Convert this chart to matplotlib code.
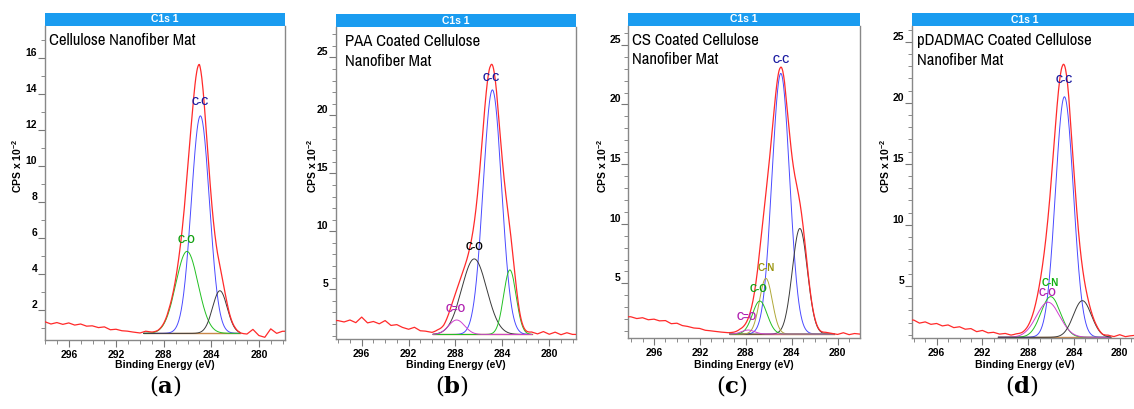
import os
import numpy as np
import matplotlib
matplotlib.use("Agg")
import matplotlib.pyplot as plt
from matplotlib import font_manager
from matplotlib.font_manager import FontProperties
from matplotlib.patches import Rectangle
from matplotlib.ticker import MultipleLocator

plt.rcParams['font.family'] = ['Liberation Sans', 'DejaVu Sans']
plt.rcParams['mathtext.fontset'] = 'custom'
plt.rcParams['mathtext.rm'] = 'Liberation Sans:bold'
plt.rcParams['mathtext.it'] = 'Liberation Sans:bold'
plt.rcParams['mathtext.bf'] = 'Liberation Sans:bold'

W, H = 1134, 409

# binding energy grid on which the noisy background was read (eV)
bg_energy = np.arange(298.0, 277.9, -0.5)

# ---- panel (a) Cellulose nanofiber mat
a_bg = [1.35, 1.22, 1.30, 1.20, 1.28, 1.16, 1.22, 1.10, 1.12, 1.02, 1.06,
        0.90, 0.93, 0.84, 0.82, 0.76, 0.72, 0.82, 0.74, 0.72, 0.75, 0.80,
        0.72, 0.70, 0.75, 0.80, 1.15, 0.70, 0.72, 0.75, 0.82, 0.72, 0.74,
        0.68, 0.66, 0.92, 0.58, 0.48, 0.95, 0.70, 0.82]
a_baseline = [289.7, 281.6, 0.70]
a_center = [284.92, 286.05, 283.28]
a_peak = [12.8, 5.26, 3.07]
a_fwhm = [1.80, 2.20, 1.45]
a_labels = ['C-C', 'C-O']
a_label_e = [284.97, 286.09]
a_label_v = [13.55, 5.9]

# ---- panel (b) PAA coated
b_bg = [2.30, 2.18, 2.35, 2.12, 2.60, 2.10, 2.22, 2.02, 2.30, 1.88, 1.95,
        1.70, 1.55, 1.72, 1.42, 1.38, 1.25, 1.35, 1.25, 1.35, 1.30, 1.20,
        1.10, 1.10, 1.15, 1.10, 0.80, 1.10, 1.15, 1.10, 1.20, 1.15, 1.20,
        1.30, 1.15, 1.35, 1.12, 1.30, 1.08, 1.25, 1.10]
b_baseline = [289.9, 281.5, 1.10]
b_center = [284.85, 286.40, 283.36, 287.90]
b_peak = [22.2, 7.62, 6.67, 2.35]
b_fwhm = [1.85, 2.50, 1.25, 1.60]
b_labels = ['C-C', 'C-O', 'C=O']
b_label_e = [284.92, 286.40, 287.95]
b_label_v = [23.2, 8.63, 3.27]

# ---- panel (c) CS coated
c_bg = [2.20, 2.05, 2.12, 1.95, 2.00, 1.85, 1.88, 1.62, 1.66, 1.45, 1.38,
        1.25, 1.22, 1.06, 1.02, 0.95, 0.90, 0.86, 0.88, 0.95, 0.85, 0.80,
        0.75, 0.75, 0.80, 0.75, 0.55, 0.75, 0.80, 0.90, 0.85, 0.80, 0.82,
        0.80, 0.88, 0.80, 0.72, 0.86, 0.70, 0.80, 0.74]
c_baseline = [289.4, 280.3, 0.75]
c_center = [284.95, 283.29, 286.25, 286.78, 287.80]
c_peak = [22.6, 9.6, 5.42, 3.52, 1.09]
c_fwhm = [1.80, 1.55, 1.30, 1.50, 1.30]
c_labels = ['C-C', 'C-N', 'C-O', 'C=O']
c_label_e = [284.94, 286.25, 286.87, 287.90]
c_label_v = [23.7, 6.3, 4.5, 2.15]

# ---- panel (d) pDADMAC coated
d_bg = [2.20, 1.95, 2.05, 1.85, 1.92, 1.72, 1.80, 1.58, 1.65, 1.45, 1.50,
        1.25, 1.35, 1.15, 1.20, 1.05, 1.10, 0.95, 1.00, 0.90, 0.85, 0.80,
        0.79, 0.79, 0.80, 0.79, 0.60, 0.79, 0.80, 0.79, 0.80, 0.82, 0.86,
        0.80, 0.92, 0.84, 1.00, 0.84, 0.92, 0.96, 0.86]
d_baseline = [290.6, 280.8, 0.79]
d_center = [284.83, 286.03, 286.26, 283.26]
d_peak = [20.5, 4.12, 3.66, 3.79]
d_fwhm = [1.85, 2.00, 2.40, 1.85]
d_labels = ['C-C', 'C-N', 'C-O']
d_label_e = [284.85, 286.10, 286.35]
d_label_v = [21.86, 5.2, 4.45]

titles = ['Cellulose Nanofiber Mat',
          'PAA Coated Cellulose\nNanofiber Mat',
          'CS Coated Cellulose\nNanofiber Mat',
          'pDADMAC Coated Cellulose\nNanofiber Mat']
panel_letters = ['a', 'b', 'c', 'd']

# styles
RED = '#ff2a2a'
BLUE = '#4a4aff'
GREEN = '#22c022'
BLACK = '#3a3a3a'
MAGENTA = '#d040d0'
OLIVE = '#b0a838'
BASE = '#c8884a'
HEADER = '#1a9cf0'

a_colors = [BLUE, GREEN, BLACK]
b_colors = [BLUE, BLACK, GREEN, MAGENTA]
c_colors = [BLUE, BLACK, OLIVE, GREEN, MAGENTA]
d_colors = [BLUE, GREEN, MAGENTA, BLACK]
a_label_colors = ['#1a1aa0', '#10a010']
b_label_colors = ['#1a1aa0', '#000000', '#b020b0']
c_label_colors = ['#1a1aa0', '#9a9410', '#10a010', '#b020b0']
d_label_colors = ['#1a1aa0', '#10b010', '#b020b0']

# pixel layout: left, right, header top, plot top, plot bottom
boxes = [(45, 285, 13, 26, 340),
         (336, 576, 14.3, 27.3, 339),
         (628.3, 860, 13.3, 25.7, 338),
         (911.7, 1138, 13.3, 26, 338)]
xlims = [(298.0, 277.8), (298.19, 277.72), (298.24, 278.05), (298.18, 278.4)]
ylims = [(0.33, 17.8), (0.71, 27.6), (0.42, 26.6), (0.73, 26.3)]
ymajor = [2, 5, 5, 5]
title_dx = [4, 9, 4, 5]
ylabel_x = [17, 311.7, 602.3, 885]
letter_x = [165, 452, 732, 1022]

# narrow sans for the in-plot titles, if one is installed
narrow_file = None
for f in font_manager.fontManager.ttflist:
    base_name = os.path.basename(f.fname).lower()
    if 'narrow' in (f.name + base_name).lower() and 'bold' not in base_name \
            and 'italic' not in base_name and f.style == 'normal':
        narrow_file = f.fname
        break
if narrow_file:
    title_prop = FontProperties(fname=narrow_file, size=12)
else:
    title_prop = FontProperties(family='Liberation Sans', size=10)


def gauss(e, c, fwhm):
    return np.exp(-4 * np.log(2) * (e - c) ** 2 / fwhm ** 2)


fig = plt.figure(figsize=(W / 100, H / 100), dpi=100)

panels = [
    (a_bg, a_baseline, a_center, a_peak, a_fwhm, a_colors, a_labels, a_label_e, a_label_v, a_label_colors),
    (b_bg, b_baseline, b_center, b_peak, b_fwhm, b_colors, b_labels, b_label_e, b_label_v, b_label_colors),
    (c_bg, c_baseline, c_center, c_peak, c_fwhm, c_colors, c_labels, c_label_e, c_label_v, c_label_colors),
    (d_bg, d_baseline, d_center, d_peak, d_fwhm, d_colors, d_labels, d_label_e, d_label_v, d_label_colors),
]

for i, (bg, base, cen, pk, fw, cols, labs, lab_e, lab_v, lab_cols) in enumerate(panels):
    left, right, htop, top, bottom = boxes[i]
    ax = fig.add_axes([left / W, 1 - bottom / H, (right - left) / W, (bottom - top) / H])
    ax.set_xlim(*xlims[i])
    ax.set_ylim(*ylims[i])

    # measured envelope: background + fitted components
    e = np.linspace(277.5, 298.5, 841)
    env = np.interp(e, bg_energy[::-1], np.array(bg)[::-1])
    for c, p, f in zip(cen, pk, fw):
        env = env + (p - base[2]) * gauss(e, c, f)

    # components sitting on the baseline
    eb = np.linspace(base[1], base[0], 400)
    ax.plot([base[0], base[1]], [base[2], base[2]], color=BASE, lw=1.0, zorder=2)
    for c, p, f, col in zip(cen, pk, fw, cols):
        ax.plot(eb, base[2] + (p - base[2]) * gauss(eb, c, f), color=col, lw=0.7, zorder=3)
    ax.plot(e, env, color=RED, lw=0.9, zorder=4)

    for t, te, tv, tc in zip(labs, lab_e, lab_v, lab_cols):
        ax.text(te, tv, t, color=tc, fontsize=7, fontweight='bold', ha='center', va='center', zorder=5)

    ax.text(title_dx[i] / (right - left), 1 - 7 / (bottom - top), titles[i],
            transform=ax.transAxes, ha='left', va='top', fontproperties=title_prop,
            linespacing=1.4)

    # header bar
    hh = (top - htop) / (bottom - top)
    ax.add_patch(Rectangle((0, 1), 1, hh, transform=ax.transAxes, facecolor=HEADER,
                           edgecolor='none', clip_on=False))
    ax.text(0.5, 1 + hh / 2, 'C1s 1', transform=ax.transAxes, color='white',
            fontsize=7.5, fontweight='bold', ha='center', va='center')

    for s in ax.spines.values():
        s.set_color('#888888')
        s.set_linewidth(1.0)
    ax.spines['top'].set_visible(False)

    ax.xaxis.set_major_locator(MultipleLocator(4))
    ax.xaxis.set_minor_locator(MultipleLocator(1))
    ax.yaxis.set_minor_locator(MultipleLocator(1))
    ax.tick_params(which='both', direction='out', color='#777777', labelsize=7.5)
    ax.tick_params(axis='x', which='major', length=5, pad=2)
    ax.tick_params(axis='x', which='minor', length=3)
    ax.tick_params(axis='y', which='major', length=5, pad=0.5)
    ax.tick_params(axis='y', which='minor', length=3)
    yt = [v for v in np.arange(0, 30, ymajor[i]) if ylims[i][0] < v < ylims[i][1]]
    ax.set_yticks(yt)
    ax.set_yticklabels([str(int(v)) for v in yt])
    for t in ax.get_xticklabels() + ax.get_yticklabels():
        t.set_fontweight('bold')
    for t in ax.get_yticklabels():
        t.set_verticalalignment('bottom')

    ax.set_xlabel('Binding Energy (eV)', fontsize=7.5, fontweight='bold')
    ax.xaxis.label.set_va('center')
    ax.xaxis.set_label_coords(0.5, -(365 - bottom) / (bottom - top))
    ax.set_ylabel(r'CPS x 10$^{-2}$', fontsize=7.5, fontweight='bold')
    ax.yaxis.label.set_va('center')
    ax.yaxis.set_label_coords(-(left - ylabel_x[i]) / (right - left),
                              (bottom - 166) / (bottom - top))

    fig.text(letter_x[i] / W, 1 - 385 / H, r'$(\mathbf{%s})$' % panel_letters[i],
             ha='center', va='center', fontsize=16.5, math_fontfamily='dejavuserif')

fig.savefig('out.png', dpi=100)
